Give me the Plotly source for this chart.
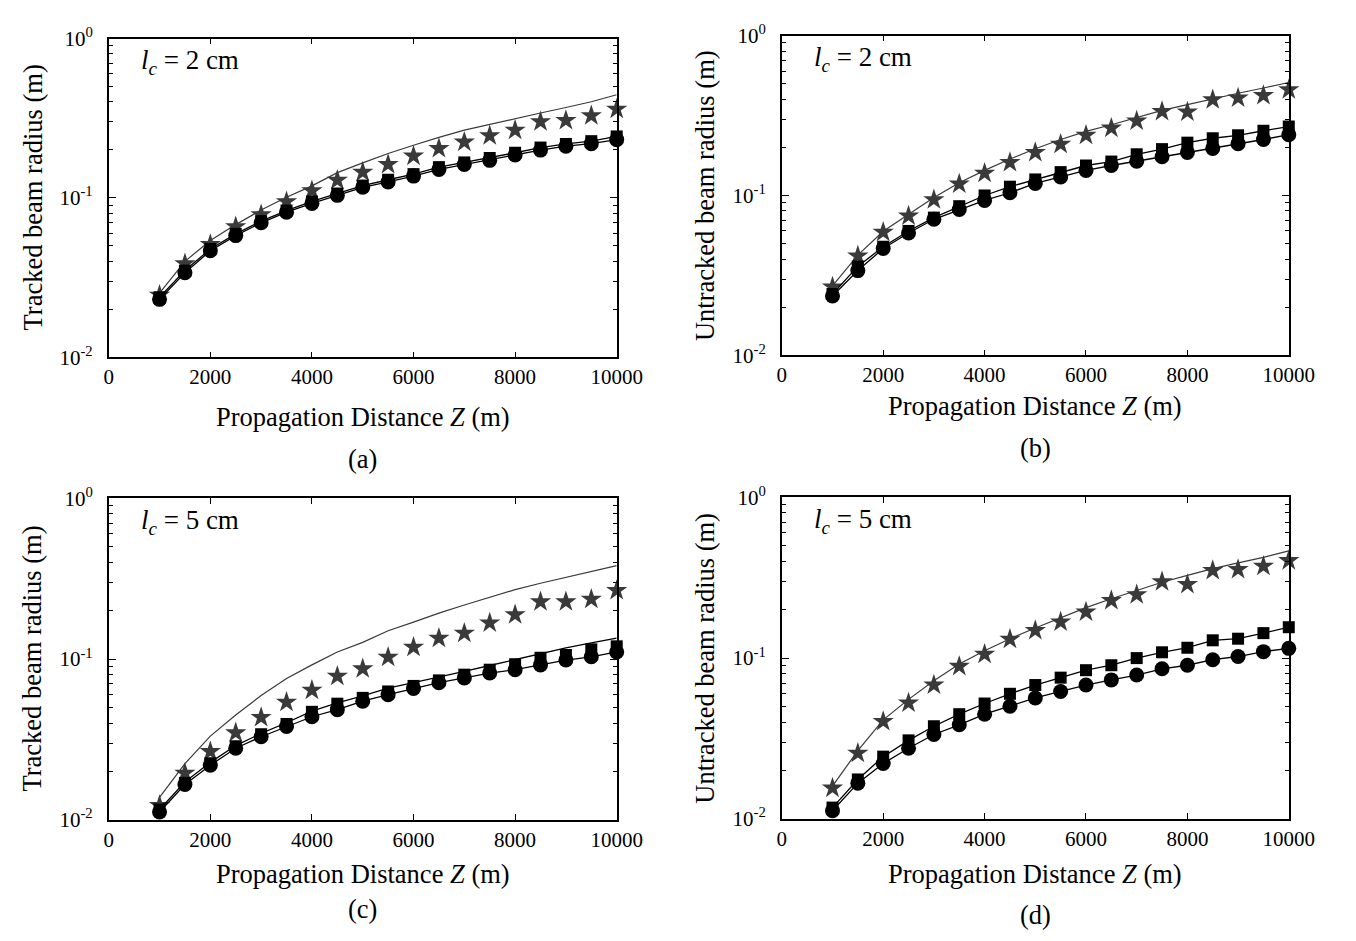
import plotly.graph_objects as go

# page pixels of the reference; plotly's html page adds an 8px body margin
W, H = 1356, 941
OFF = 8
FW, FH = W - 2 * OFF, H - 2 * OFF


def px(x):
    return (x - OFF) / FW


def py(y):
    return 1 - (y - OFF) / FH


distance = [1000, 1500, 2000, 2500, 3000, 3500, 4000, 4500, 5000, 5500,
            6000, 6500, 7000, 7500, 8000, 8500, 9000, 9500, 10000]

# ---- panel (a): tracked, l_c = 2 cm
a_star_line = [0.0253, 0.040, 0.054, 0.068, 0.084, 0.101, 0.119, 0.144, 0.166, 0.190,
               0.214, 0.240, 0.266, 0.290, 0.315, 0.341, 0.369, 0.401, 0.444]
a_star = [0.0245, 0.0386, 0.0511, 0.066, 0.0785, 0.0946, 0.111, 0.129, 0.145, 0.162,
          0.183, 0.204, 0.224, 0.246, 0.266, 0.301, 0.306, 0.328, 0.360]
a_square = [0.0238, 0.0350, 0.0478, 0.0595, 0.0715, 0.0833, 0.0950, 0.1065, 0.1195, 0.130,
            0.141, 0.156, 0.167, 0.178, 0.192, 0.207, 0.218, 0.227, 0.243]
a_circle = [0.0231, 0.0339, 0.0466, 0.058, 0.0698, 0.0814, 0.0924, 0.1038, 0.1166, 0.126,
            0.137, 0.151, 0.162, 0.172, 0.186, 0.1995, 0.211, 0.219, 0.232]

# ---- panel (b): untracked, l_c = 2 cm
b_star_line = [0.0272, 0.0424, 0.0597, 0.0762, 0.0972, 0.120, 0.1435, 0.169, 0.196, 0.224,
               0.252, 0.277, 0.307, 0.341, 0.370, 0.403, 0.436, 0.470, 0.509]
b_star = [0.0268, 0.0418, 0.0589, 0.0744, 0.0941, 0.118, 0.138, 0.161, 0.186, 0.209,
          0.238, 0.264, 0.293, 0.335, 0.333, 0.397, 0.408, 0.422, 0.459]
b_square = [0.0242, 0.0360, 0.0478, 0.0600, 0.0727, 0.0857, 0.1000, 0.1135, 0.126, 0.140,
            0.154, 0.163, 0.181, 0.195, 0.214, 0.228, 0.238, 0.254, 0.270]
b_circle = [0.0235, 0.0339, 0.0466, 0.0583, 0.071, 0.0817, 0.0932, 0.104, 0.119, 0.1306,
            0.1435, 0.154, 0.1637, 0.1747, 0.186, 0.197, 0.211, 0.224, 0.240]

# ---- panel (c): tracked, l_c = 5 cm
c_star_line = [0.0138, 0.0224, 0.0332, 0.0449, 0.0593, 0.0757, 0.092, 0.1107, 0.127, 0.150,
               0.1696, 0.193, 0.217, 0.243, 0.270, 0.296, 0.321, 0.348, 0.381]
c_star = [0.0123, 0.0195, 0.0266, 0.0348, 0.0434, 0.054, 0.0641, 0.0782, 0.0870, 0.1028,
          0.1187, 0.135, 0.145, 0.168, 0.189, 0.227, 0.227, 0.236, 0.267]
c_square_line = [0.0116, 0.0172, 0.0228, 0.0290, 0.0345, 0.0402, 0.0475, 0.0535, 0.0590, 0.0659,
                 0.0713, 0.0771, 0.0839, 0.0912, 0.0995, 0.108, 0.1175, 0.126, 0.135]
c_square = [0.0116, 0.0170, 0.0225, 0.0287, 0.0341, 0.0395, 0.047, 0.0528, 0.0574, 0.0629,
            0.0681, 0.0737, 0.080, 0.0859, 0.0929, 0.1019, 0.106, 0.115, 0.120]
c_circle = [0.0112, 0.0166, 0.0219, 0.0279, 0.0329, 0.0381, 0.0438, 0.0485, 0.0547, 0.0601,
            0.0656, 0.0713, 0.0764, 0.0819, 0.0859, 0.092, 0.0986, 0.1033, 0.1107]

# ---- panel (d): untracked, l_c = 5 cm
d_star_line = [0.0160, 0.0266, 0.0413, 0.0554, 0.0722, 0.092, 0.111, 0.132, 0.154, 0.179,
               0.206, 0.234, 0.262, 0.296, 0.327, 0.360, 0.391, 0.423, 0.464]
d_star = [0.01556, 0.0256, 0.0404, 0.0526, 0.0680, 0.0889, 0.1057, 0.131, 0.1485, 0.168,
          0.1935, 0.228, 0.248, 0.2985, 0.2875, 0.351, 0.356, 0.373, 0.404]
d_square = [0.01177, 0.0176, 0.0244, 0.0308, 0.0377, 0.0448, 0.0522, 0.060, 0.068, 0.0756,
            0.0841, 0.0903, 0.100, 0.1087, 0.116, 0.129, 0.132, 0.143, 0.1556]
d_circle = [0.01124, 0.0167, 0.0221, 0.0275, 0.0335, 0.0385, 0.0448, 0.0502, 0.0565, 0.0620,
            0.068, 0.0732, 0.0785, 0.0858, 0.0903, 0.0977, 0.1023, 0.1097, 0.115]

x_ticks = [0, 2000, 4000, 6000, 8000, 10000]
y_ticks = [0.01, 0.1, 1]
y_ticktext = ["10<sup>-2</sup>", "10<sup>-1</sup>", "10<sup>0</sup>"]
y_minor = [0.02, 0.03, 0.04, 0.05, 0.06, 0.07, 0.08, 0.09,
           0.2, 0.3, 0.4, 0.5, 0.6, 0.7, 0.8, 0.9]

panels = [
    dict(key="a", rect=(106, 626, 25, 353), ylabel="Tracked beam radius (m)", lc="2",
         star_line=a_star_line, star=a_star, sq_line=None, square=a_square, circle=a_circle,
         ytitle_x=28, xtitle_y=414, tag_y=458),
    dict(key="b", rect=(795, 1314, 22, 351), ylabel="Untracked beam radius (m)", lc="2",
         star_line=b_star_line, star=b_star, sq_line=None, square=b_square, circle=b_circle,
         ytitle_x=717, xtitle_y=403, tag_y=446),
    dict(key="c", rect=(106, 626, 498, 829), ylabel="Tracked beam radius (m)", lc="5",
         star_line=c_star_line, star=c_star, sq_line=c_square_line, square=c_square, circle=c_circle,
         ytitle_x=28, xtitle_y=885, tag_y=921),
    dict(key="d", rect=(795, 1314, 497, 828), ylabel="Untracked beam radius (m)", lc="5",
         star_line=d_star_line, star=d_star, sq_line=None, square=d_square, circle=d_circle,
         ytitle_x=717, xtitle_y=885, tag_y=927),
]

FONT = "Liberation Serif, Times New Roman, serif"
GRAY = "#3a3a3a"
TICKSIZE = 21
TITLESIZE = 26.5

fig = go.Figure()
annotations = []
layout_axes = {}

for i, p in enumerate(panels, start=1):
    xa = "x" if i == 1 else f"x{i}"
    ya = "y" if i == 1 else f"y{i}"
    x0, x1, y0, y1 = p["rect"]

    fig.add_trace(go.Scatter(x=distance, y=p["star_line"], mode="lines",
                             line=dict(color=GRAY, width=1.2), xaxis=xa, yaxis=ya,
                             showlegend=False, hoverinfo="skip"))
    fig.add_trace(go.Scatter(x=distance, y=p["star"], mode="markers", cliponaxis=False,
                             marker=dict(symbol="star", size=16, color=GRAY),
                             xaxis=xa, yaxis=ya, showlegend=False))
    if p["sq_line"] is not None:
        fig.add_trace(go.Scatter(x=distance, y=p["sq_line"], mode="lines",
                                 line=dict(color="black", width=1.3), xaxis=xa, yaxis=ya,
                                 showlegend=False, hoverinfo="skip"))
        fig.add_trace(go.Scatter(x=distance, y=p["square"], mode="markers", cliponaxis=False,
                                 marker=dict(symbol="square", size=12, color="black"),
                                 xaxis=xa, yaxis=ya, showlegend=False))
    else:
        fig.add_trace(go.Scatter(x=distance, y=p["square"], mode="lines+markers", cliponaxis=False,
                                 line=dict(color="black", width=1.3),
                                 marker=dict(symbol="square", size=12, color="black"),
                                 xaxis=xa, yaxis=ya, showlegend=False))
    fig.add_trace(go.Scatter(x=distance, y=p["circle"], mode="lines+markers", cliponaxis=False,
                             line=dict(color="black", width=1.3),
                             marker=dict(symbol="circle", size=15, color="black"),
                             xaxis=xa, yaxis=ya, showlegend=False))

    xname = "xaxis" if i == 1 else f"xaxis{i}"
    yname = "yaxis" if i == 1 else f"yaxis{i}"
    layout_axes[xname] = dict(
        domain=[px(x0), px(x1)], anchor=ya, range=[0, 10000],
        tickmode="array", tickvals=x_ticks, ticktext=[str(t) for t in x_ticks],
        ticks="inside", ticklen=6, tickwidth=1, tickcolor="black",
        showline=True, linecolor="black", linewidth=1.6, mirror="ticks",
        showgrid=False, zeroline=False,
        tickfont=dict(family=FONT, size=TICKSIZE, color="black"),
    )
    layout_axes[yname] = dict(
        domain=[py(y1), py(y0)], anchor=xa, type="log", range=[-2, 0],
        tickmode="array", tickvals=y_ticks, ticktext=y_ticktext,
        ticks="inside", ticklen=7, tickwidth=1, tickcolor="black",
        minor=dict(tickmode="array", tickvals=y_minor, ticks="inside", ticklen=4,
                   tickwidth=1, tickcolor="black", showgrid=False),
        showline=True, linecolor="black", linewidth=1.6, mirror="ticks",
        showgrid=False, zeroline=False, ticklabelstandoff=10,
        tickfont=dict(family=FONT, size=TICKSIZE, color="black"),
    )

    cx = (x0 + x1) / 2
    annotations.append(dict(text=p["ylabel"], x=px(p["ytitle_x"]), y=py((y0 + y1) / 2),
                            xref="paper", yref="paper", textangle=-90, showarrow=False,
                            xanchor="center", yanchor="middle",
                            font=dict(family=FONT, size=TITLESIZE, color="black")))
    annotations.append(dict(text="Propagation Distance <i>Z</i> (m)", x=px(cx),
                            y=py(p["xtitle_y"]), xref="paper", yref="paper",
                            showarrow=False, xanchor="center", yanchor="middle",
                            font=dict(family=FONT, size=TITLESIZE, color="black")))
    annotations.append(dict(text=f"({p['key']})", x=px(cx), y=py(p["tag_y"]),
                            xref="paper", yref="paper", showarrow=False,
                            xanchor="center", yanchor="middle",
                            font=dict(family=FONT, size=TITLESIZE, color="black")))
    annotations.append(dict(text=f"<i>l<sub>c</sub></i> = {p['lc']} cm", x=px(x0 + 31),
                            y=py(y0 + 24), xref="paper", yref="paper",
                            showarrow=False, xanchor="left", yanchor="middle",
                            font=dict(family=FONT, size=27, color="black")))

fig.update_layout(
    width=FW, height=FH, margin=dict(l=0, r=0, t=0, b=0),
    paper_bgcolor="white", plot_bgcolor="white",
    annotations=annotations, showlegend=False,
    **layout_axes,
)

fig.write_html("out.html")
